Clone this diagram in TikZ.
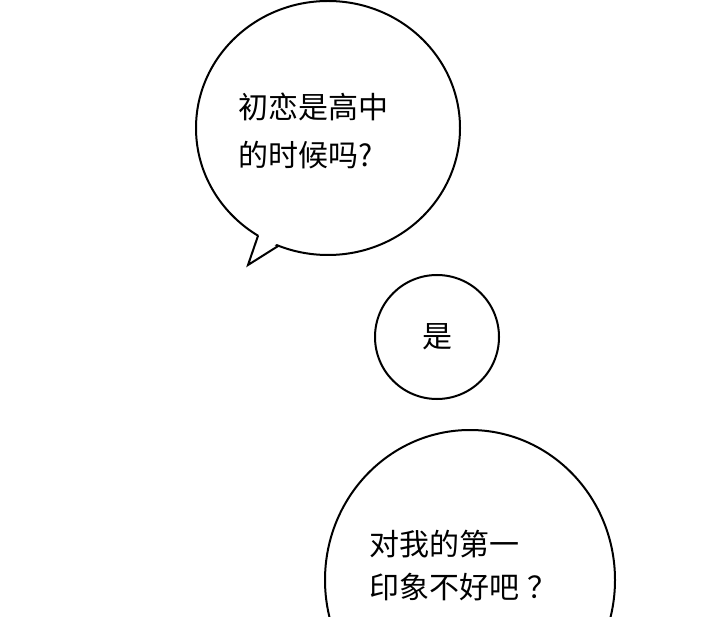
\documentclass[tikz,border=0pt]{standalone}
\usepackage{fontspec}
\newfontfamily\cjk{Noto Sans CJK SC}
\usetikzlibrary{shapes.geometric,calc}
\begin{document}
\begin{tikzpicture}[x=1pt,y=-1pt,
  bubble/.style={draw=black,line width=2pt,fill=white,ellipse,inner sep=0pt},
  txt/.style={font=\cjk\fontsize{30}{48}\selectfont,anchor=west,align=left,inner sep=0pt}]
\useasboundingbox[fill=white] (0,0) rectangle (720,617);
\node[bubble,minimum width=264pt,minimum height=254pt] (b1) at (328,128) {};
\coordinate (t) at (248,265);
\coordinate (l) at ($(b1.center)+(122:132 and 127)$);
\coordinate (r) at ($(b1.center)+(112:132 and 127)$);
\fill[white] ($(l)+(2,-4)$) -- (t) -- ($(r)+(1,-4)$) -- cycle;
\draw[line width=2pt,line join=miter] (l) -- (t) -- (r);
\node[txt] (x1) at (238,131) {初恋是高中\\的时候吗?};
\node[bubble,minimum size=124pt] (b2) at (437,337) {};
\node[font=\cjk\fontsize{30}{34}\selectfont] (x2) at (b2) {是};
\node[bubble,minimum width=290pt,minimum height=300pt] (b3) at (470,580) {};
\node[txt,font=\cjk\fontsize{30}{43}\selectfont] (x3) at (369,566) {对我的第一\\印象不好吧\hspace{8pt}？};
\end{tikzpicture}
\end{document}
